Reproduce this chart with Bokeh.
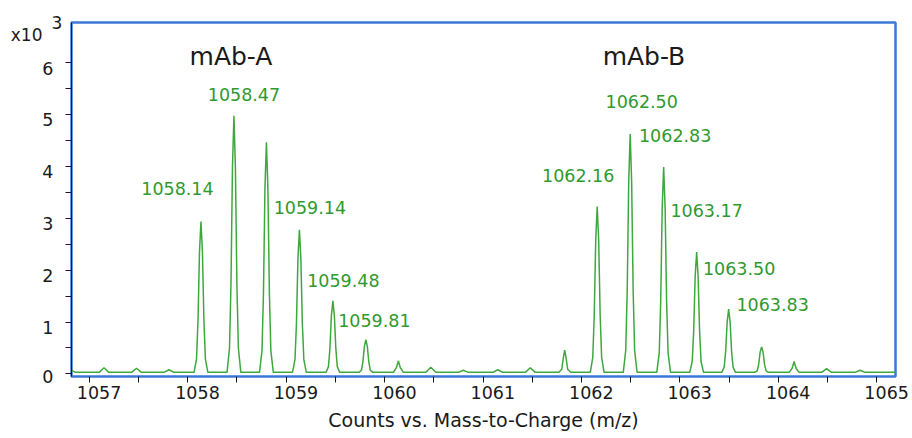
from bokeh.plotting import figure
from bokeh.models import Range1d, FixedTicker, ColumnDataSource, CustomJSTickFormatter, LinearAxis
from bokeh.core.properties import value
from bokeh.embed import file_html
from bokeh.resources import INLINE

# ---- profile spectrum (m/z, counts x10^3) ----
spectrum_mz = [
    1056.80, 1056.83, 1056.86,
    1057.10, 1057.15, 1057.20,
    1057.43, 1057.48, 1057.53,
    1057.76, 1057.81, 1057.86,
    1058.065, 1058.09, 1058.105, 1058.12, 1058.135, 1058.15, 1058.165, 1058.18, 1058.205,
    1058.40, 1058.425, 1058.44, 1058.455, 1058.47, 1058.485, 1058.50, 1058.515, 1058.54,
    1058.73, 1058.755, 1058.77, 1058.785, 1058.80, 1058.815, 1058.83, 1058.845, 1058.87,
    1059.065, 1059.09, 1059.105, 1059.12, 1059.135, 1059.15, 1059.165, 1059.18, 1059.205,
    1059.405, 1059.43, 1059.445, 1059.46, 1059.475, 1059.49, 1059.505, 1059.52, 1059.545,
    1059.74, 1059.765, 1059.78, 1059.795, 1059.81, 1059.825, 1059.84, 1059.855, 1059.88,
    1060.09, 1060.12, 1060.14, 1060.16, 1060.19,
    1060.42, 1060.47, 1060.52,
    1060.75, 1060.80, 1060.85,
    1061.10, 1061.15, 1061.20,
    1061.43, 1061.48, 1061.53,
    1061.77, 1061.80, 1061.815, 1061.83, 1061.845, 1061.86, 1061.89,
    1062.09, 1062.115, 1062.13, 1062.145, 1062.16, 1062.175, 1062.19, 1062.205, 1062.23,
    1062.425, 1062.45, 1062.465, 1062.48, 1062.495, 1062.51, 1062.525, 1062.54, 1062.565,
    1062.765, 1062.79, 1062.805, 1062.82, 1062.835, 1062.85, 1062.865, 1062.88, 1062.905,
    1063.10, 1063.125, 1063.14, 1063.155, 1063.17, 1063.185, 1063.20, 1063.215, 1063.24,
    1063.425, 1063.45, 1063.465, 1063.48, 1063.495, 1063.51, 1063.525, 1063.54, 1063.565,
    1063.76, 1063.785, 1063.80, 1063.815, 1063.83, 1063.845, 1063.86, 1063.875, 1063.90,
    1064.11, 1064.14, 1064.16, 1064.18, 1064.21,
    1064.44, 1064.49, 1064.54,
    1064.78, 1064.83, 1064.88,
    1065.20,
]
spectrum_counts = [
    0.13, 0.06, 0.03,
    0.03, 0.12, 0.03,
    0.03, 0.11, 0.03,
    0.03, 0.08, 0.03,
    0.03, 0.29, 1.03, 2.35, 2.94, 2.35, 1.03, 0.29, 0.03,
    0.03, 0.50, 1.74, 3.98, 4.98, 3.98, 1.74, 0.50, 0.03,
    0.03, 0.45, 1.56, 3.58, 4.47, 3.58, 1.56, 0.45, 0.03,
    0.03, 0.28, 0.97, 2.22, 2.78, 2.22, 0.97, 0.28, 0.03,
    0.03, 0.14, 0.49, 1.13, 1.41, 1.13, 0.49, 0.14, 0.03,
    0.03, 0.07, 0.23, 0.53, 0.66, 0.53, 0.23, 0.07, 0.03,
    0.03, 0.12, 0.25, 0.12, 0.03,
    0.03, 0.13, 0.03,
    0.03, 0.07, 0.03,
    0.03, 0.08, 0.03,
    0.03, 0.12, 0.03,
    0.03, 0.09, 0.30, 0.46, 0.30, 0.09, 0.03,
    0.03, 0.32, 1.13, 2.58, 3.23, 2.58, 1.13, 0.32, 0.03,
    0.03, 0.46, 1.62, 3.70, 4.63, 3.70, 1.62, 0.46, 0.03,
    0.03, 0.40, 1.40, 3.19, 3.99, 3.19, 1.40, 0.40, 0.03,
    0.03, 0.24, 0.82, 1.88, 2.35, 1.88, 0.82, 0.24, 0.03,
    0.03, 0.13, 0.44, 1.00, 1.25, 1.00, 0.44, 0.13, 0.03,
    0.03, 0.06, 0.18, 0.42, 0.52, 0.42, 0.18, 0.06, 0.03,
    0.03, 0.11, 0.24, 0.11, 0.03,
    0.03, 0.10, 0.03,
    0.03, 0.07, 0.03,
    0.03,
]

# ---- peak annotations ----
peak_label_text = ["1058.14", "1058.47", "1059.14", "1059.48", "1059.81",
                   "1062.16", "1062.50", "1062.83", "1063.17", "1063.50", "1063.83"]
peak_label_mz = [1058.14, 1058.47, 1059.14, 1059.48, 1059.81,
                 1062.16, 1062.50, 1062.83, 1063.17, 1063.50, 1063.83]
peak_label_counts = [2.94, 4.98, 2.78, 1.41, 0.66,
                     3.23, 4.63, 3.99, 2.35, 1.25, 0.52]
# label placement relative to the apex (pixels)
label_dx = [-24, 10, 10, 10, 8.5, -19, 11, 12, 10, 10, 11]
label_dy = [-33, -21, -22, -20, -19, -31, -32, -32, -42, -41, -42]

group_names = ["mAb-A", "mAb-B"]
group_mz = [1058.44, 1062.635]
group_counts = [6.12, 6.12]

x_tick_values = [1057, 1058, 1059, 1060, 1061, 1062, 1063, 1064, 1065]
y_tick_values = [0, 1, 2, 3, 4, 5, 6]

x_title = "Counts vs. Mass-to-Charge (m/z)"
y_multiplier = "x10"
y_exponent = "3"

FONT = "DejaVu Sans"
GREEN_LINE = "#3ea83e"
GREEN_TEXT = "#2f9a2f"
FRAME_BLUE = "#3d78d8"
INK = "#1a1a1a"

X0, X1 = 1056.82, 1065.19
Y0, Y1 = -0.05, 6.78

p = figure(width=912, height=438,
           x_range=Range1d(X0, X1), y_range=Range1d(Y0, Y1),
           output_backend="svg", toolbar_location=None,
           min_border_left=71, min_border_right=17,
           min_border_top=22, min_border_bottom=62)
p.background_fill_color = "white"
p.border_fill_color = "white"
p.grid.visible = False
p.outline_line_color = FRAME_BLUE
p.outline_line_width = 2.5

# x axis: labels sit slightly right of their tick marks (as in the original)
xa = p.xaxis[0]
xa.ticker = FixedTicker(ticks=[v + 0.1 for v in x_tick_values],
                        minor_ticks=sorted(x_tick_values + [v + 0.5 for v in x_tick_values[:-1]]))
xa.formatter = CustomJSTickFormatter(code="return Math.floor(tick).toString();")
xa.major_tick_line_color = None
xa.major_tick_out = 6
xa.major_tick_in = 0
xa.minor_tick_line_color = INK
xa.minor_tick_out = 6
xa.minor_tick_in = 0
xa.axis_line_color = None
xa.major_label_standoff = 3
xa.major_label_text_font = FONT
xa.major_label_text_font_size = "17.5px"
xa.major_label_text_color = INK
xa.axis_label = x_title
xa.axis_label_text_font = FONT
xa.axis_label_text_font_size = "19px"
xa.axis_label_text_font_style = "normal"
xa.axis_label_text_color = INK
xa.axis_label_standoff = 7

# y axis (labels sit slightly below their tick marks, as in the original)
ya = p.yaxis[0]
ya.ticker = FixedTicker(ticks=[max(v - 0.1, Y0 + 0.005) for v in y_tick_values],
                        minor_ticks=sorted(y_tick_values + [v + 0.5 for v in y_tick_values[:-1]]))
ya.formatter = CustomJSTickFormatter(code="return Math.ceil(tick - 1e-9).toString().replace('-', '');")
ya.major_tick_line_color = None
ya.major_tick_out = 6
ya.major_tick_in = 0
ya.minor_tick_line_color = INK
ya.minor_tick_out = 6
ya.minor_tick_in = 0
ya.axis_line_color = INK
ya.axis_line_width = 1
ya.major_label_standoff = 12
ya.major_label_text_font = FONT
ya.major_label_text_font_size = "17.5px"
ya.major_label_text_color = INK
# exponent "3" of the x10^3 multiplier, at the top end of the y axis
ya.axis_label = y_exponent
ya.axis_label_text_font = FONT
ya.axis_label_text_font_size = "17px"
ya.axis_label_text_font_style = "normal"
ya.axis_label_text_color = INK
ya.axis_label_orientation = "horizontal"
ya.axis_label_align = "end"
ya.axis_label_standoff = -23

# outer left axis carrying only the "x10" multiplier
ya2 = LinearAxis(ticker=FixedTicker(ticks=[Y1 - 0.24]),
                 formatter=CustomJSTickFormatter(code="return '%s';" % y_multiplier))
ya2.axis_line_color = None
ya2.major_tick_line_color = None
ya2.minor_tick_line_color = None
ya2.major_tick_out = 0
ya2.major_tick_in = 0
ya2.minor_tick_out = 0
ya2.major_label_standoff = 6
ya2.major_label_text_font = FONT
ya2.major_label_text_font_size = "17px"
ya2.major_label_text_color = INK
p.add_layout(ya2, "left")

# spectrum trace
p.line(spectrum_mz, spectrum_counts, line_color=GREEN_LINE, line_width=1.5)

# peak labels
lab_src = ColumnDataSource(dict(x=peak_label_mz, y=peak_label_counts, t=peak_label_text,
                                dx=label_dx, dy=label_dy))
p.text(x="x", y="y", text="t", x_offset="dx", y_offset="dy", source=lab_src,
       text_align="center", text_baseline="middle",
       text_font=value(FONT), text_font_size="17.5px", text_color=GREEN_TEXT)

# antibody names
p.text(x=group_mz, y=group_counts, text=group_names,
       text_align="center", text_baseline="middle",
       text_font=value(FONT), text_font_size="25px", text_color=INK)

open("out.html", "w").write(file_html(p, INLINE))
